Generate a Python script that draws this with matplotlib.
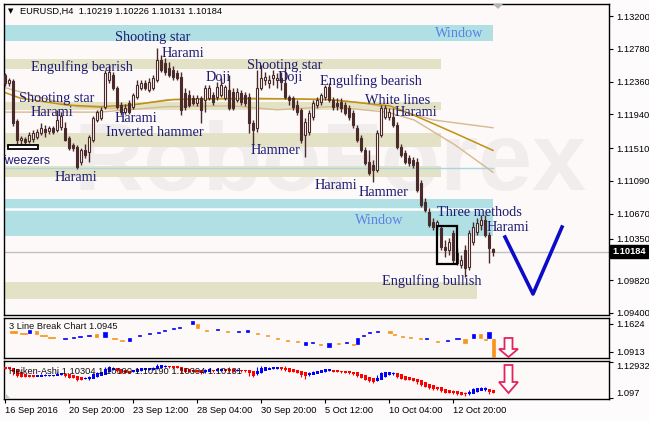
import numpy as np
import matplotlib
matplotlib.use("Agg")
import matplotlib.pyplot as plt
from matplotlib.patches import Rectangle, Polygon

plt.rcParams['font.family'] = ['Liberation Sans', 'DejaVu Sans']

# ---------------- data ----------------
opens = [1.1245, 1.1234, 1.1237, 1.1186, 1.1161, 1.1163, 1.1160, 1.1163, 1.1165, 1.1170,
         1.1175, 1.1173, 1.1177, 1.1174, 1.1178, 1.1177, 1.1164, 1.1155, 1.1152, 1.1133,
         1.1148, 1.1146, 1.1161, 1.1187, 1.1190, 1.1204, 1.1238, 1.1245, 1.1228, 1.1206,
         1.1197, 1.1209, 1.1204, 1.1216, 1.1228, 1.1234, 1.1225, 1.1228, 1.1238, 1.1264,
         1.1260, 1.1254, 1.1251, 1.1247, 1.1242, 1.1222, 1.1219, 1.1215, 1.1209, 1.1215,
         1.1213, 1.1215, 1.1219, 1.1216, 1.1219, 1.1215, 1.1225, 1.1223, 1.1213, 1.1222,
         1.1219, 1.1216, 1.1183, 1.1177, 1.1228, 1.1238, 1.1234, 1.1241, 1.1238, 1.1241,
         1.1234, 1.1216, 1.1215, 1.1206, 1.1200, 1.1168, 1.1172, 1.1191, 1.1206, 1.1210,
         1.1216, 1.1229, 1.1213, 1.1209, 1.1210, 1.1206, 1.1202, 1.1196, 1.1177, 1.1164,
         1.1148, 1.1133, 1.1129, 1.1123, 1.1168, 1.1191, 1.1191, 1.1191, 1.1181, 1.1152,
         1.1145, 1.1138, 1.1136, 1.1133, 1.1106, 1.1082, 1.1069, 1.1056, 1.1053, 1.1049,
         1.1024, 1.1020, 1.1042, 1.1017, 1.1001, 1.1020, 1.0999, 1.1031, 1.1044, 1.1053,
         1.1059, 1.1040, 1.10219]
highs = [1.1247, 1.1241, 1.1239, 1.1188, 1.1166, 1.1165, 1.1172, 1.1174, 1.1175, 1.1183,
         1.1181, 1.1179, 1.1179, 1.1200, 1.1197, 1.1184, 1.1166, 1.1157, 1.1155, 1.1151,
         1.1156, 1.1168, 1.1192, 1.1200, 1.1204, 1.1251, 1.1257, 1.1248, 1.1231, 1.1210,
         1.1207, 1.1213, 1.1222, 1.1238, 1.1238, 1.1238, 1.1241, 1.1245, 1.1279, 1.1270,
         1.1266, 1.1261, 1.1256, 1.1251, 1.1248, 1.1228, 1.1225, 1.1219, 1.1219, 1.1218,
         1.1232, 1.1232, 1.1223, 1.1236, 1.1241, 1.1232, 1.1245, 1.1228, 1.1228, 1.1225,
         1.1223, 1.1222, 1.1187, 1.1251, 1.1257, 1.1248, 1.1245, 1.1251, 1.1247, 1.1248,
         1.1254, 1.1219, 1.1218, 1.1213, 1.1202, 1.1190, 1.1200, 1.1213, 1.1216, 1.1222,
         1.1232, 1.1234, 1.1216, 1.1215, 1.1215, 1.1210, 1.1206, 1.1200, 1.1181, 1.1168,
         1.1152, 1.1148, 1.1136, 1.1174, 1.1206, 1.1206, 1.1202, 1.1202, 1.1184, 1.1156,
         1.1148, 1.1142, 1.1140, 1.1138, 1.1110, 1.1087, 1.1074, 1.1062, 1.1059, 1.1053,
         1.1033, 1.1036, 1.1046, 1.1023, 1.1014, 1.1027, 1.1046, 1.1056, 1.1062, 1.1065,
         1.1065, 1.1044, 1.10226]
lows = [1.1231, 1.1231, 1.1179, 1.1156, 1.1155, 1.1155, 1.1157, 1.1159, 1.1163, 1.1168,
        1.1165, 1.1169, 1.1169, 1.1172, 1.1174, 1.1160, 1.1148, 1.1147, 1.1124, 1.1129,
        1.1138, 1.1133, 1.1159, 1.1184, 1.1187, 1.1201, 1.1234, 1.1225, 1.1201, 1.1193,
        1.1195, 1.1195, 1.1201, 1.1214, 1.1225, 1.1225, 1.1223, 1.1225, 1.1236, 1.1248,
        1.1245, 1.1242, 1.1238, 1.1238, 1.1193, 1.1200, 1.1204, 1.1206, 1.1205, 1.1183,
        1.1197, 1.1213, 1.1206, 1.1213, 1.1216, 1.1213, 1.1200, 1.1200, 1.1210, 1.1206,
        1.1205, 1.1170, 1.1155, 1.1172, 1.1225, 1.1232, 1.1228, 1.1232, 1.1228, 1.1225,
        1.1214, 1.1206, 1.1200, 1.1193, 1.1157, 1.1140, 1.1168, 1.1187, 1.1202, 1.1206,
        1.1213, 1.1210, 1.1200, 1.1200, 1.1197, 1.1193, 1.1187, 1.1177, 1.1159, 1.1146,
        1.1129, 1.1117, 1.1108, 1.1120, 1.1165, 1.1188, 1.1187, 1.1178, 1.1150, 1.1140,
        1.1131, 1.1128, 1.1126, 1.1095, 1.1076, 1.1069, 1.1050, 1.1046, 1.1046, 1.1020,
        1.1012, 1.1014, 1.1003, 1.1001, 1.0998, 1.0986, 1.0995, 1.1027, 1.1040, 1.1046,
        1.1037, 1.1004, 1.10131]
closes = [1.1234, 1.1238, 1.1183, 1.1161, 1.1164, 1.1159, 1.1168, 1.1170, 1.1172, 1.1177,
          1.1172, 1.1177, 1.1172, 1.1187, 1.1192, 1.1161, 1.1151, 1.1151, 1.1127, 1.1148,
          1.1142, 1.1165, 1.1190, 1.1197, 1.1200, 1.1247, 1.1248, 1.1228, 1.1204, 1.1197,
          1.1202, 1.1197, 1.1219, 1.1232, 1.1234, 1.1228, 1.1236, 1.1241, 1.1264, 1.1251,
          1.1248, 1.1245, 1.1242, 1.1241, 1.1200, 1.1204, 1.1206, 1.1209, 1.1215, 1.1200,
          1.1228, 1.1228, 1.1210, 1.1229, 1.1232, 1.1229, 1.1202, 1.1202, 1.1223, 1.1210,
          1.1209, 1.1183, 1.1174, 1.1228, 1.1241, 1.1242, 1.1238, 1.1245, 1.1241, 1.1236,
          1.1216, 1.1213, 1.1204, 1.1197, 1.1161, 1.1184, 1.1196, 1.1209, 1.1213, 1.1219,
          1.1229, 1.1213, 1.1204, 1.1205, 1.1202, 1.1196, 1.1191, 1.1181, 1.1161, 1.1148,
          1.1132, 1.1119, 1.1123, 1.1170, 1.1202, 1.1202, 1.1197, 1.1181, 1.1152, 1.1142,
          1.1133, 1.1132, 1.1129, 1.1097, 1.1078, 1.1072, 1.1053, 1.1050, 1.1056, 1.1024,
          1.1020, 1.1031, 1.1008, 1.1004, 1.1008, 1.0998, 1.1042, 1.1050, 1.1055, 1.1059,
          1.1040, 1.1023, 1.10184]

# moving averages (knots: bar index, price)
ma_gold_x = [-0.5, 3.75, 15.5, 23.75, 31.25, 42, 53, 61.25, 71.25, 81.25, 86.75, 96.25, 102.25, 112.5, 122]
ma_gold_y = [1.1223, 1.1215, 1.1206, 1.1204, 1.1206, 1.1213, 1.1214, 1.1214, 1.1214, 1.1213, 1.1210, 1.1205, 1.1193, 1.1170, 1.1148]
ma_up_x = [-0.5, 8.75, 18, 27, 40.5, 61.25, 81.25, 89.5, 98, 107, 122]
ma_up_y = [1.1229, 1.1216, 1.1204, 1.1202, 1.1213, 1.1215, 1.1213, 1.1209, 1.1200, 1.1187, 1.1177]
ma_lo_x = [-0.5, 23.75, 40.5, 57, 68, 81.25, 95.5, 102.25, 112.5, 122]
ma_lo_y = [1.1197, 1.1197, 1.1204, 1.1205, 1.1200, 1.1204, 1.1197, 1.1187, 1.1155, 1.1120]

# support / resistance zones
band_lo = [1.12880, 1.12522, 1.11997, 1.11523, 1.11139, 1.10384, 1.09578]
band_hi = [1.13085, 1.12650, 1.12099, 1.11703, 1.11280, 1.10858, 1.09795]
band_end = [122, 109, 109, 109, 109, 122, 118]
band_kind = ['window', 'zone', 'zone', 'zone', 'zone', 'window', 'zone']
current_price = 1.10184

# pattern labels
pat_text = ["Shooting star", "Harami", "Engulfing bearish", "Shooting star", "Doji", "Doji",
            "Engulfing bearish", "White lines", "Harami", "Shooting star", "Harami", "Harami",
            "Inverted hammer", "Hammer", "Harami", "Harami", "Hammer", "Three methods",
            "Harami", "Engulfing bullish"]
pat_x = [27.5, 39.25, 6.5, 60.5, 50.25, 68.25, 78.75, 90, 97.5, 3.5, 6.5, 27.5, 25.25, 61.5,
         12.5, 77.5, 88.5, 108, 120.5, 94.25]
pat_y = [1.12919, 1.12714, 1.12547, 1.12573, 1.12419, 1.12407, 1.12368, 1.12125, 1.11959,
         1.12138, 1.11959, 1.11882, 1.11715, 1.11485, 1.11139, 1.11037, 1.10947, 1.10679,
         1.10487, 1.09808]
win_x = [107.5, 87.5]
win_y = [1.12970, 1.10589]

# forecast V
v_x = [125, 132, 139.25]
v_y = [1.10371, 1.09642, 1.10499]

# y ticks main
main_ticks = [1.13200, 1.12780, 1.12360, 1.11940, 1.11510, 1.11090, 1.10670, 1.10350, 1.09820, 1.09400]
main_tick_labels = ['1.13200', '1.12780', '1.12360', '1.11940', '1.11510', '1.11090', '1.10670',
                    '1.10350', '1.09820', '1.09400']

# 3 line break bricks
lb_start = [1.25, 3.75, 5.75, 7.5, 8.75, 10.75, 14.5, 16.75, 18.25, 20.5, 22.5, 24.5, 26.75, 28.75,
            30.75, 33.25, 35.75, 38, 39.5, 41.75, 43.25, 46.5, 47.75, 50, 52.75, 55.25, 58, 60.25,
            62.75, 65.25, 67.75, 70.25, 72.75, 74.75, 76.5, 78.5, 80.5, 83, 85, 86.75, 87.75,
            89.25, 90.75, 92.75, 95.75, 97, 99, 101, 103.5, 105, 107.75, 110.25, 112.5, 114.5,
            116.75, 118.5, 119.75, 120.5, 121.75]
lb_end = [3, 5.5, 6.5, 8.25, 10.5, 12.5, 15.5, 17.5, 19.25, 21.5, 23.25, 25.5, 28, 29.75,
          31.5, 34, 36.5, 38.75, 40.25, 42.5, 44, 47.25, 48.5, 50.75, 53.5, 56, 58.75, 61,
          63.5, 66, 68.5, 71, 73.5, 75.5, 77.25, 79.25, 81.5, 83.75, 85.75, 87.5, 88.5,
          90, 91.5, 93.5, 96.75, 97.75, 99.75, 101.75, 104.25, 105.75, 108.5, 111, 113.75, 115.5,
          117.5, 119.25, 120.5, 121.5, 122.5]
lb_hi = [1.1446, 1.1408, 1.1472, 1.1446, 1.1345, 1.1294, 1.1268, 1.1294, 1.1319, 1.1345,
         1.1370, 1.1421, 1.1268, 1.1218, 1.1268, 1.1345, 1.1395, 1.1421, 1.1472, 1.1522,
         1.1548, 1.1700, 1.1624, 1.1472, 1.1497, 1.1446, 1.1446, 1.1472, 1.1395, 1.1345,
         1.1268, 1.1218, 1.1192, 1.1167, 1.1167, 1.1116, 1.1141, 1.1141, 1.1167, 1.1116,
         1.1268, 1.1345, 1.1421, 1.1446, 1.1446, 1.1370, 1.1319, 1.1294, 1.1268, 1.1268,
         1.1192, 1.1218, 1.1268, 1.1243, 1.1370, 1.1370, 1.1243, 1.1421, 1.1243]
lb_lo = [1.1408, 1.1370, 1.1395, 1.1370, 1.1319, 1.1268, 1.1243, 1.1268, 1.1294, 1.1319,
         1.1294, 1.1294, 1.1243, 1.1192, 1.1192, 1.1319, 1.1370, 1.1395, 1.1446, 1.1497,
         1.1522, 1.1624, 1.1522, 1.1446, 1.1472, 1.1421, 1.1421, 1.1421, 1.1370, 1.1319,
         1.1243, 1.1192, 1.1167, 1.1091, 1.1141, 1.1091, 1.1040, 1.1116, 1.1141, 1.1091,
         1.1116, 1.1319, 1.1395, 1.1421, 1.1395, 1.1345, 1.1294, 1.1268, 1.1243, 1.1243,
         1.1167, 1.1192, 1.1243, 1.1141, 1.1268, 1.1268, 1.1218, 1.1268, 1.0786]
lb_up = ['o', 'o', 'b', 'o', 'o', 'o', 'b', 'b', 'b', 'b', 'o', 'b', 'o', 'o', 'b', 'b', 'b',
         'b', 'b', 'b', 'b', 'b', 'o', 'o', 'b', 'o', 'b', 'b', 'o', 'o', 'o', 'o', 'o', 'b',
         'b', 'o', 'b', 'o', 'b', 'o', 'b', 'b', 'b', 'b', 'o', 'o', 'o', 'o', 'o', 'b', 'o',
         'b', 'b', 'o', 'b', 'o', 'o', 'b', 'o']

date_idx = [0, 16, 32, 48, 64, 80, 96, 112]
date_labels = ['16 Sep 2016', '20 Sep 20:00', '23 Sep 12:00', '28 Sep 04:00', '30 Sep 20:00',
               '5 Oct 12:00', '10 Oct 04:00', '12 Oct 20:00']

# ---------------- figure ----------------
W, H = 649, 421
BG = '#fdf9f9'
fig = plt.figure(figsize=(W / 100, H / 100), dpi=100, facecolor='#fdfbfb')


def fx(px):
    return px / W


def fy(py):
    return 1 - py / H


def make_axes(top, bottom):
    a = fig.add_axes([fx(4), fy(bottom), fx(609) - fx(4), fy(top) - fy(bottom)])
    a.set_facecolor(BG)
    for s in a.spines.values():
        s.set_color('black')
        s.set_linewidth(1.0)
    a.set_xlim(-0.25, 151)
    return a


ax = make_axes(4, 315)
ax1 = make_axes(318, 358)
ax2 = make_axes(361, 399)

for a in (ax, ax1, ax2):
    a.yaxis.tick_right()
    a.tick_params(axis='y', direction='out', length=3, width=0.8, pad=2, labelsize=6.7,
                  colors='black')
    a.set_xticks([])

# ---- main panel ----
ax.set_ylim(1.09373, 1.13354)
ax.set_yticks(main_ticks)
ax.set_yticklabels(main_tick_labels)

# watermark
ax.text(0.539, 0.482, 'RoboForex', transform=ax.transAxes, ha='center', va='center',
        fontsize=70, fontweight='bold', color='#f1eded', family='Liberation Sans', zorder=0.5)

# zones
for lo, hi, end, kind in zip(band_lo, band_hi, band_end, band_kind):
    col = '#b0dfe4' if kind == 'window' else '#e3e2c6'
    ax.add_patch(Rectangle((-1, lo), end + 1, hi - lo, facecolor=col, edgecolor='none', zorder=1))
ax.plot([-1, 122], [1.10730, 1.10730], color='white', lw=1.8, zorder=1.1)
ax.plot([-1, 122], [1.11255, 1.11255], color='#a8d8de', lw=1.0, zorder=1.1)
ax.axhline(current_price, color='#c0c0c0', lw=1.0, zorder=1.2)

# moving averages
ax.plot(ma_up_x, ma_up_y, color='#d6b98f', lw=1.0, zorder=2)
ax.plot(ma_lo_x, ma_lo_y, color='#d6b98f', lw=1.0, zorder=2)
ax.plot(ma_gold_x, ma_gold_y, color='#c09010', lw=1.1, zorder=2.1)

# candles
o = np.array(opens); h = np.array(highs); l = np.array(lows); c = np.array(closes)
x = np.arange(len(c))
up = c >= o
CAND = '#4b2a2a'
ax.vlines(x, l, h, color=CAND, lw=1.0, zorder=3)
ax.bar(x[up], (c - o)[up], bottom=o[up], width=0.7, facecolor='white', edgecolor=CAND,
       linewidth=0.8, zorder=4)
ax.bar(x[~up], (o - c)[~up], bottom=c[~up], width=0.7, facecolor=CAND, edgecolor=CAND,
       linewidth=0.8, zorder=4)

# pattern markers
ax.add_patch(Rectangle((108, 1.10023), 5, 0.00489, fill=False, edgecolor='black', lw=1.6, zorder=5))
ax.add_patch(Rectangle((0.75, 1.11498), 7.5, 0.00051, facecolor='white', edgecolor='black', lw=1.3,
                       zorder=5))
ax.plot(v_x, v_y, color='#0c0cc8', lw=2.6, zorder=5)

NAVY = '#1c1c72'
for t, px_, py_ in zip(pat_text, pat_x, pat_y):
    ax.text(px_, py_, t, ha='left', va='center', fontsize=10.3, family='Liberation Serif',
            color=NAVY, zorder=6)
for px_, py_ in zip(win_x, win_y):
    ax.text(px_, py_, 'Window', ha='left', va='center', fontsize=10.3, family='Liberation Serif',
            color='#5a82e6', zorder=6)
ax.text(11.5, 1.11344, 'Tweezers', ha='right', va='center', fontsize=8.7,
        family='Liberation Sans', color=NAVY, zorder=6, clip_on=True)

# current price box
ax.text(1 + 3.5 / 605, current_price, '1.10184', transform=ax.get_yaxis_transform(),
        ha='left', va='center', color='white', fontsize=6.7, fontweight='bold',
        bbox=dict(boxstyle='square,pad=0.25', fc='black', ec='black'), clip_on=False, zorder=10)

# ---- 3 line break panel ----
ax1.set_ylim(1.07604, 1.17764)
ax1.set_yticks([1.0913, 1.1624])
ax1.set_yticklabels(['1.0913', '1.1624'])
for s, e, hi, lo, k in zip(lb_start, lb_end, lb_hi, lb_lo, lb_up):
    col = '#0000ff' if k == 'b' else '#f7941d'
    ax1.add_patch(Rectangle((s, lo), e - s, hi - lo, facecolor=col, edgecolor=col, lw=0.5,
                            zorder=3))
ax1.text(5 / 605, 0.78, '3 Line Break Chart 1.0945', transform=ax1.transAxes, ha='left',
         va='center', fontsize=6.7, color='#111111', zorder=6)

# ---- Heiken-Ashi panel ----
ax2.set_ylim(1.09609, 1.13022)
ax2.set_yticks([1.097, 1.12932])
ax2.set_yticklabels(['1.097', '1.12932'])
yl = ax2.get_yticklabels()
yl[0].set_va('bottom')
yl[1].set_va('top')
ha_close = (o + h + l + c) / 4
ha_open = np.empty_like(ha_close)
ha_open[0] = (o[0] + c[0]) / 2
for i in range(1, len(c)):
    ha_open[i] = (ha_open[i - 1] + ha_close[i - 1]) / 2
ha_high = np.maximum.reduce([h, ha_open, ha_close])
ha_low = np.minimum.reduce([l, ha_open, ha_close])
ha_up = ha_close >= ha_open
ha_col = np.where(ha_up, '#0000ff', '#ff0000')
ax2.vlines(x, ha_low, ha_high, colors=ha_col, lw=0.8, zorder=3)
ax2.bar(x, np.abs(ha_close - ha_open) + 0.0012, bottom=np.minimum(ha_open, ha_close) - 0.0006,
        width=0.75, color=ha_col, edgecolor='none', zorder=4)
ax2.text(5 / 605, 0.72, 'Heiken-Ashi 1.10304 1.10190 1.10190 1.10304 1.10131',
         transform=ax2.transAxes, ha='left', va='center', fontsize=6.7, color='#111111', zorder=6)

ax2.set_xticks(date_idx)
ax2.set_xticklabels(date_labels, ha='left')
ax2.tick_params(axis='x', direction='out', length=3, width=0.8, pad=2, labelsize=6.7)

# ---- figure-level decorations ----
fig.text(fx(8), fy(11), '\u25bc', fontsize=5, family='DejaVu Sans', va='center', ha='left')
fig.text(fx(20), fy(11), 'EURUSD,H4  1.10219 1.10226 1.10131 1.10184', fontsize=6.7,
         va='center', ha='left', color='black')


def figpoly(pts, **kw):
    p = Polygon([(fx(a), fy(b)) for a, b in pts], closed=True, transform=fig.transFigure, **kw)
    fig.patches.append(p)


figpoly([(493, 4), (503, 4), (498, 9)], facecolor='#b4b4b4', edgecolor='none', zorder=5)
figpoly([(5, 393), (5, 398.5), (11, 398.5)], facecolor='#c8c8c8', edgecolor='none', zorder=5)
for y0, yh, y1 in [(338, 349, 357), (365, 382, 393)]:
    cx = 508.5
    figpoly([(cx - 4, y0), (cx + 4, y0), (cx + 4, yh), (cx + 9.5, yh), (cx, y1), (cx - 9.5, yh),
             (cx - 4, yh)], facecolor='white', edgecolor='#e3245c', lw=1.3, zorder=5)

fig.savefig('out.png', dpi=100, facecolor=fig.get_facecolor())
